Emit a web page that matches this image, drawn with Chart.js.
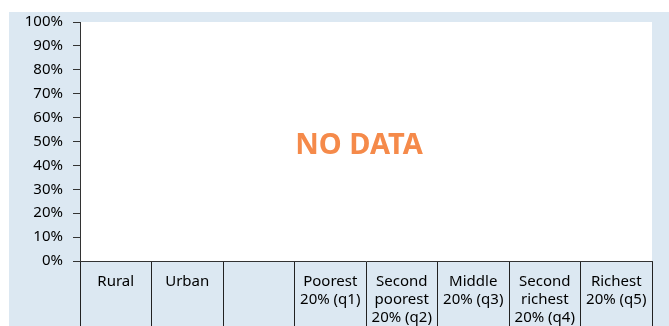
<!DOCTYPE html>
<html>
<head>
<meta charset="utf-8">
<script src="https://cdn.jsdelivr.net/npm/chart.js@4/dist/chart.umd.min.js"></script>
<style>
  html, body { margin: 0; padding: 0; background: #fff; }
  #wrap { position: relative; width: 669px; height: 326px; }
  canvas { position: absolute; left: 0; top: 0; }
</style>
</head>
<body>
<div id="wrap"><canvas id="chart" width="669" height="326"></canvas></div>
<script>
// ── data
const categories = [
  ['Rural'],
  ['Urban'],
  [''],
  ['Poorest', '20% (q1)'],
  ['Second', 'poorest', '20% (q2)'],
  ['Middle', '20% (q3)'],
  ['Second', 'richest', '20% (q4)'],
  ['Richest', '20% (q5)'],
];
const values = [null, null, null, null, null, null, null, null];
const yTicks = [0, 10, 20, 30, 40, 50, 60, 70, 80, 90, 100];
const noDataText = 'NO DATA';

const FONT = '"Noto Sans", sans-serif';
const BLUE = '#dce8f2';

// background panel + white plot area + the "NO DATA" note
const panelPlugin = {
  id: 'panel',
  beforeDraw(chart) {
    const { ctx, chartArea: a } = chart;
    ctx.save();
    ctx.fillStyle = BLUE;
    ctx.fillRect(9, 12, chart.width - 9, chart.height - 12);
    ctx.fillStyle = '#fff';
    ctx.fillRect(a.left, a.top, a.right - a.left, a.bottom - a.top);
    ctx.restore();
  },
  afterDraw(chart) {
    const { ctx, chartArea: a } = chart;
    ctx.save();
    ctx.fillStyle = '#f58a4a';
    ctx.font = 'bold 29px ' + FONT;
    ctx.textAlign = 'center';
    ctx.textBaseline = 'middle';
    ctx.fillText(noDataText, (a.left + a.right) / 2 - 7, 146);
    ctx.restore();
  }
};

new Chart(document.getElementById('chart'), {
  type: 'bar',
  data: {
    labels: categories,
    datasets: [{ data: values, backgroundColor: '#f58a4a' }],
  },
  options: {
    responsive: false,
    animation: false,
    layout: { padding: { left: 0, top: 22, right: 17, bottom: 0 } },
    plugins: { legend: { display: false }, tooltip: { enabled: false } },
    scales: {
      x: {
        offset: true,
        afterFit: s => { s.height = 65; },
        grid: { offset: true, drawOnChartArea: false, drawTicks: true, tickLength: 65, color: '#222', lineWidth: 1 },
        border: { display: true, color: '#333', width: 1 },
        ticks: {
          autoSkip: false, maxRotation: 0, minRotation: 0, padding: -53,
          color: '#000', font: { family: FONT, size: 15 },
        },
      },
      y: {
        min: 0, max: 100,
        afterFit: s => { s.width = 80; },
        afterBuildTicks: s => { s.ticks = yTicks.map(v => ({ value: v })); },
        grid: { drawOnChartArea: false, drawTicks: true, tickLength: 7, color: '#333' },
        border: { display: true, color: '#333', width: 1 },
        ticks: {
          padding: 10, color: '#000', font: { family: FONT, size: 15 },
          callback: v => v + '%',
        },
      },
    },
  },
  plugins: [panelPlugin],
});
</script>
</body>
</html>
